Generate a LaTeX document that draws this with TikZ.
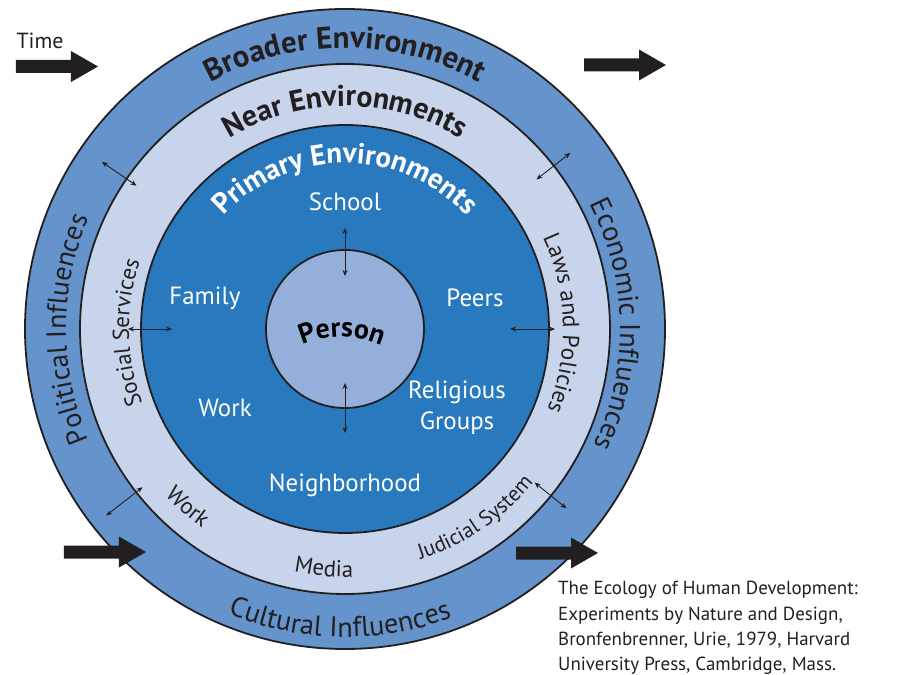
\documentclass[tikz,border=0pt]{standalone}
\usepackage{fontspec}
\setmainfont{PT Sans}
\usetikzlibrary{decorations.text,arrows.meta}

% Colours of the rings
\definecolor{broadblue}{RGB}{101,147,204}
\definecolor{nearblue}{RGB}{200,212,235}
\definecolor{primblue}{RGB}{40,121,190}
\definecolor{persblue}{RGB}{148,176,218}
\definecolor{inkdark}{RGB}{35,31,32}

% Text set along a circular arc: [colour] radius, start angle, end angle, format, text
\newcommand{\arclabel}[6][inkdark]{%
  \path[decorate, decoration={text along path, text align=center,
    text color=#1, text={|#5|#6}}]
    (#3:#2) arc[start angle=#3, end angle=#4, radius=#2];}

\tikzset{
  ring/.style={draw=inkdark, line width=1.8bp},
  link/.style={draw=inkdark, line width=0.9bp,
    {Stealth[length=6bp,width=5bp]}-{Stealth[length=6bp,width=5bp]}},
  innerlabel/.style={text=white, font=\fontsize{25}{31}\selectfont, align=center},
  timearrow/.pic={\fill[inkdark] (0,-6.5) -- (55,-6.5) -- (55,-15.5) -- (82,0)
    -- (55,15.5) -- (55,6.5) -- (0,6.5) -- cycle;},
}

\begin{document}
\begin{tikzpicture}[x=1bp, y=1bp, line cap=round, line join=round]

% Frame of the whole picture
\useasboundingbox (-345,-346) rectangle (577,329);

% Center of all the circles
\coordinate (O) at (0,0);

% The four nested circles
\draw[ring, fill=broadblue] (O) circle (320);   % Broader environment
\draw[ring, fill=nearblue] (O) circle (265);    % Near environments
\draw[ring, fill=primblue] (O) circle (204);    % Primary environments
\draw[ring, fill=persblue] (O) circle (79);     % Person

% Ring titles
\arclabel{281}{160}{20}{\fontsize{31}{31}\selectfont\bfseries}{Broader Environment}
\arclabel{223}{160}{20}{\fontsize{30}{30}\selectfont\bfseries}{Near Environments}
\arclabel[white]{166}{175}{5}{\fontsize{29}{29}\selectfont\bfseries}{Primary Environments}

% Broader influences
\arclabel{279}{240}{120}{\fontsize{28}{28}\selectfont}{Political Influences}
\arclabel{275}{61}{-59}{\fontsize{28.5}{28}\selectfont}{Economic Influences}
\arclabel{308}{209}{329}{\fontsize{28.5}{28}\selectfont}{Cultural Influences}

% Near influences
\arclabel{216}{241}{121}{\fontsize{23}{23}\selectfont}{Social Services}
\arclabel{218}{61}{-58}{\fontsize{23.5}{23}\selectfont}{Laws and Policies}
\arclabel{245}{198.5}{258.5}{\fontsize{23}{23}\selectfont}{Work}
\arclabel{248}{235}{295}{\fontsize{23}{23}\selectfont}{Media}
\arclabel{243}{274.5}{334.5}{\fontsize{21.5}{22}\selectfont}{Judicial System}

% Person in the middle
\path[decorate, decoration={text along path, text align=center,
  text={|\fontsize{28}{28}\selectfont\bfseries|Person}}]
  (-3,-108) ++(125:100) arc[start angle=125, end angle=55, radius=100];

% Primary environments
\node[innerlabel] (school) at (0,127) {School};
\node[innerlabel] (family) at (-140,31) {Family};
\node[innerlabel] (peers) at (130,31) {Peers};
\node[innerlabel] (work) at (-120,-79) {Work};
\node[innerlabel] (relig) at (112,-79) {Religious\\Groups};
\node[innerlabel] (neigh) at (0,-156) {Neighborhood};

% Ends of the two-way links
\coordinate (up1) at (90:53);    \coordinate (up2) at (90:101);
\coordinate (dn1) at (270:54);   \coordinate (dn2) at (270:104);
\coordinate (rt1) at (0:165);    \coordinate (rt2) at (0:210);
\coordinate (lt1) at (180:173);  \coordinate (lt2) at (180:217);
\coordinate (ul1) at (145.5:253); \coordinate (ul2) at (145.5:295);
\coordinate (ur1) at (38:243);   \coordinate (ur2) at (38:286);
\coordinate (ll1) at (218:257);  \coordinate (ll2) at (218:303);
\coordinate (lr1) at (-39:244);  \coordinate (lr2) at (-39:285);

% Two-way links between the levels
\draw[link] (up1) -- (up2);
\draw[link] (dn1) -- (dn2);
\draw[link] (rt1) -- (rt2);
\draw[link] (lt1) -- (lt2);
\draw[link] (ul1) -- (ul2);
\draw[link] (ur1) -- (ur2);
\draw[link] (ll1) -- (ll2);
\draw[link] (lr1) -- (lr2);

% Time arrows
\node[font=\fontsize{22}{22}\selectfont, text=inkdark] (time) at (-305,288) {Time};
\pic (tl) at (-329,262.5) {timearrow};
\pic (tr) at (239,264) {timearrow};
\pic (bl) at (-281,-223) {timearrow};
\pic (br) at (171,-224) {timearrow};

% Source of the model
\node[anchor=north west, align=left, text=inkdark, inner sep=0pt,
  font=\fontsize{19}{25.5}\selectfont] (source) at (213,-252)
  {The Ecology of Human Development:\\
   Experiments by Nature and Design,\\
   Bronfenbrenner, Urie, 1979, Harvard\\
   University Press, Cambridge, Mass.};

\end{tikzpicture}
\end{document}
